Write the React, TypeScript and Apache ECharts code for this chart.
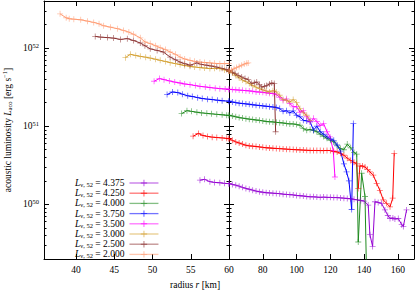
import React, { useEffect, useRef } from "react";
import * as echarts from "echarts";

// Values: [radius r in km, acoustic luminosity in units of 1e50 erg/s]
const UNIT = 1e50;

const names = ["4.375", "4.250", "4.000", "3.750", "3.500", "3.000", "2.500", "2.000"];
const colors = ["#9400d3", "#ff0000", "#1f8a1f", "#0000ff", "#ff00ff", "#d4a030", "#8b3030", "#ff9a70"];

const left4375 = [[56.2,2.04],[56.8,2.09],[57.5,1.95],[58.1,1.91],[58.8,1.89],[59.4,1.86],[60,1.84]];
const right4375 = [[60,1.84],[62,1.80],[64,1.76],[66,1.71],[68,1.65],[70,1.60],[72,1.56],[74,1.52],[76,1.48],[78,1.45],[80,1.43],[82,1.41],[84,1.40],[86,1.39],[88,1.38],[90,1.37],[92,1.35],[94,1.34],[96,1.33],[98,1.32],[100,1.30],[102,1.29],[104,1.28],[106,1.26],[108,1.25],[110,1.25],[112,1.24],[114,1.23],[116,1.24],[118,1.23],[120,1.23],[122,1.22],[124,1.22],[126,1.21],[128,1.20],[130,1.19],[132,1.18],[134,1.16],[136,1.14],[138,1.12],[140,1.10],[142.4,0.98],[143.4,0.41],[145,0.29],[146.4,1.08],[148.3,1.06],[150.3,1.03],[152.3,0.85],[154,0.72],[155.3,0.66],[157,0.67],[158.2,0.65],[160.2,0.66],[162.2,0.55],[163.2,0.52],[165.1,0.85]];

const left4250 = [[55.3,7.45],[56.0,8.07],[56.6,7.6],[57.2,7.4],[57.8,7.25],[58.4,7.16],[59.1,7.08],[59.7,7.0],[60,6.97]];
const right4250 = [[60,6.9],[62,6.6],[64,6.3],[66,6.1],[68,5.9],[70,5.7],[72,5.6],[74,5.56],[76,5.5],[78,5.43],[80,5.37],[82,5.3],[84,5.27],[86,5.22],[88,5.19],[90,5.16],[92,5.12],[94,5.09],[96,5.06],[98,5.03],[100,5.0],[102,4.98],[104,4.95],[106,4.92],[108,4.9],[110,4.9],[112,4.89],[114,4.88],[116,4.87],[118,4.9],[120,4.88],[122,4.75],[124,4.68],[126,4.5],[128,4.25],[130,3.9],[132,3.65],[134,3.45],[135.5,3.3],[136.5,1.6],[137.5,3.1],[139,3.1],[140.5,3.0],[142,2.8],[143.4,2.6],[145.4,2.37],[147.4,1.86],[149.3,1.51],[151.3,1.14],[153.3,1.03],[155.3,0.93],[156.9,1.2],[157.8,4.5]];

const left4000 = [[53.8,14.5],[54.5,15.8],[55.1,15.5],[55.8,15.1],[56.4,14.8],[57.1,14.6],[57.7,14.4],[58.4,14.2],[59.1,14.0],[59.7,13.8],[60,13.7]];
const right4000 = [[60,13.8],[62,13.5],[64,13.2],[66,12.9],[68,12.7],[70,12.5],[72,12.3],[74,12.2],[76,12.0],[78,11.9],[80,11.7],[82,11.5],[84,11.4],[86,11.35],[88,11.2],[90,11.1],[92,11.0],[94,10.8],[96,10.7],[98,10.7],[100,10.5],[102,10.3],[104,9.3],[106,8.9],[108,9.1],[110,8.8],[112,8.5],[114,7.9],[116,7.4],[118,7.0],[120,6.6],[122,6.3],[124,5.6],[126,5.2],[128,5.0],[130,5.9],[132,5.3],[134,4.6],[135.6,4.4],[136.5,0.33],[138.5,2.5],[140.5,1.26],[141.5,0.1]];

const left3750 = [[51.9,25.4],[52.6,27.4],[53.3,26.9],[53.9,25.7],[54.6,24.5],[55.2,24.0],[55.9,23.2],[56.5,22.6],[57.2,22.2],[57.8,21.9],[58.5,21.5],[59.1,21.2],[60,20.9]];
const right3750 = [[60,20.9],[62,20.4],[64,20.0],[66,19.7],[68,19.5],[70,19.3],[72,19.1],[74,18.8],[76,18.6],[78,18.4],[80,18.2],[82,18.0],[84,17.8],[86,17.6],[88,17.4],[90,16.8],[92,15.5],[94,15.8],[96,14.8],[98,15.7],[100,13.8],[102,13.2],[104,11.9],[106,11.7],[108,11.4],[110,8.9],[112,10.0],[114,8.5],[116,7.9],[118,7.3],[120,6.9],[122,6.6],[124,5.75],[126,4.8],[128,3.3],[129.6,2.6],[131,2.0],[132.6,0.86],[133.6,10.8]];

const left3500 = [[50.2,37.6],[50.9,40.7],[51.5,39.4],[52.2,38.0],[52.9,36.7],[53.6,35.7],[54.2,34.7],[54.9,34.0],[55.6,33.1],[56.2,32.4],[56.9,31.8],[57.5,31.2],[58.2,30.7],[58.8,30.2],[59.5,29.9],[60,29.7]];
const right3500 = [[60,29.5],[62,29.4],[64,29.2],[66,29.0],[68,28.8],[70,28.5],[72,28.3],[74,28.0],[76,27.5],[78,27.4],[80,27.1],[82,26.8],[84,26.4],[86,26.2],[88,25.4],[90,23.4],[92,21.4],[94,22.4],[96,19.5],[98,17.7],[100,17.8],[102,15.1],[104,15.8],[106,13.2],[108,11.4],[110,12.6],[112,11.5],[114,10.2],[116,10.8],[118,8.5],[119.8,7.3],[121.7,4.9],[122.7,2.24]];

const left3000 = [[46.45,75.4],[47.1,83.2],[47.8,80.4],[48.4,78.3],[49.1,76.4],[49.7,74.5],[50.4,71.9],[51.0,69.7],[51.7,67.3],[52.3,65.0],[53.0,63.1],[53.6,61.4],[54.2,59.8],[54.9,58.3],[55.5,57.3],[56.2,56.2],[56.8,55.5],[57.5,54.6],[58.1,55.0],[58.8,54.6],[59.4,52.5],[60,50.8]];
const right3000 = [[60,50.8],[62,47.9],[64,44.7],[66,41.7],[68,38.9],[70,37.2],[72,35.1],[74,33.1],[76,31.6],[78,30.2],[80,29.2],[82,28.2],[84,27.4],[86,28.5],[88,27.5],[90,24.9],[92,21.9],[94,21.5],[96,20.4],[98,21.9],[100,20.0],[102,16.8],[104,14.8],[106,13.8],[108,11.9]];

const left2500 = [[42.5,141],[43.2,138],[44.1,136],[44.9,134],[45.8,129],[46.7,132],[47.5,125],[48.4,116],[49.0,107],[49.7,97.7],[50.6,93.3],[51.4,89.1],[52.3,76.7],[53.0,70.8],[53.6,66.1],[54.2,63.1],[54.9,60.3],[55.8,64.6],[56.4,61.7],[57.1,60.3],[57.7,58.9],[58.4,57.1],[59.1,55.0],[59.7,53.1],[60,51.9]];
const right2500 = [[60,51.9],[62,49.0],[63.6,47.1],[65.5,44.7],[67.5,42.7],[69.5,40.7],[71.4,39.4],[73.4,35.1],[75,35.9],[76.4,36.8],[78,33.9],[79.3,31.6],[81,32.4],[82.3,33.1],[84,34.7],[85.3,35.7],[86.8,35.1],[87.6,8.5]];

const left2000 = [[37.9,274],[38.7,244],[39.1,237],[39.7,234],[40.6,230],[41.5,221],[42.3,213],[43.0,204],[43.6,193],[44.5,185],[45.4,177],[46.2,168],[46.9,160],[47.5,150],[48.4,135],[49.0,120],[49.7,114],[50.4,107],[51.0,101],[51.7,95.5],[52.3,89.1],[53.0,83.2],[53.6,76.7],[54.2,72.4],[54.9,69.7],[55.5,67.6],[56.2,66.1],[56.8,65.3],[57.5,64.6],[58.1,63.8],[58.8,63.1],[59.4,63.1],[60,63.1]];
const right2000 = [[60,50.8],[61.5,52.5],[63,54.3],[64.5,56.2],[66,58.2],[67.5,60.3],[69,62.4],[70.5,63.8],[71.4,64.6]];

const leftData = [left4375, left4250, left4000, left3750, left3500, left3000, left2500, left2000];
const rightData = [right4375, right4250, right4000, right3750, right3500, right3000, right2500, right2000];

const xLeftTicks = [40, 45, 50, 55, 60];
const xRightTicks = [80, 100, 120, 140, 160];
const yMajorTicks = [1e50, 1e51, 1e52];
const yMinorMantissa = [2, 3, 4, 5, 6, 7, 8, 9];
const yDecades = [49, 50, 51, 52];

const Y_MIN = 2e49;
const Y_MAX = 4e52;
const X_LEFT = [35.8, 60];
const X_RIGHT = [60, 169.5];

const PLUS = "path://M4.3,0H5.7V4.3H10V5.7H5.7V10H4.3V5.7H0V4.3H4.3Z";
const FONT = '"Liberation Serif", "DejaVu Serif", serif';
const FS = 9.5;

export default function App() {
  const ref = useRef<HTMLDivElement>(null);
  useEffect(() => {
    if (!ref.current) return;
    const chart = echarts.init(ref.current, null, { renderer: "svg" });

    const yMinor: number[] = [];
    yDecades.forEach((e) =>
      yMinorMantissa.forEach((m) => {
        const v = m * Math.pow(10, e);
        if (v >= Y_MIN && v <= Y_MAX) yMinor.push(v);
      })
    );

    const lineCol = { color: "#000", width: 1 };
    const yAxis = (gridIndex: number, position: string, minor: boolean, main: boolean) => ({
      type: "log",
      logBase: 10,
      gridIndex,
      position,
      min: Y_MIN,
      max: Y_MAX,
      axisLine: { show: !minor, onZero: false, lineStyle: lineCol },
      axisTick: {
        show: true,
        inside: true,
        length: minor ? 2.5 : 5,
        customValues: minor ? yMinor : yMajorTicks,
        lineStyle: lineCol,
      },
      minorTick: { show: false },
      splitLine: { show: false },
      axisLabel: {
        show: main,
        customValues: yMajorTicks,
        margin: 5,
        formatter: (v: number) => `{b|10}{s|${Math.round(Math.log10(v))}}`,
        rich: {
          b: { fontFamily: FONT, fontSize: FS, color: "#000" },
          s: { fontFamily: FONT, fontSize: 6.5, color: "#000", padding: [0, 0, 6, 0] },
        },
      },
      ...(main
        ? {
            name: "acoustic luminosity {i|L}{sub|aco} [erg s{sup|−1}]",
            nameLocation: "middle",
            nameGap: 30,
            nameTextStyle: {
              fontFamily: FONT,
              fontSize: FS,
              color: "#000",
              rich: {
                i: { fontFamily: FONT, fontSize: FS, fontStyle: "italic", color: "#000" },
                sub: { fontFamily: FONT, fontSize: 6.5, color: "#000", padding: [3, 0, 0, 0] },
                sup: { fontFamily: FONT, fontSize: 6.5, color: "#000", padding: [0, 0, 6, 0] },
              },
            },
          }
        : {}),
    });

    const xAxis = (gridIndex: number, position: string, range: number[], ticks: number[], labels: number[] | null) => ({
      type: "value",
      gridIndex,
      position,
      min: range[0],
      max: range[1],
      axisLine: { show: true, onZero: false, lineStyle: lineCol },
      axisTick: { show: true, inside: true, length: 5, customValues: ticks, lineStyle: lineCol },
      splitLine: { show: false },
      axisLabel: labels
        ? { show: true, customValues: labels, margin: 6, fontFamily: FONT, fontSize: FS, color: "#000" }
        : { show: false },
    });

    const series: any[] = [];
    names.forEach((name, i) => {
      const common = {
        name,
        type: "line",
        symbol: PLUS,
        symbolSize: 6,
        showAllSymbol: true,
        lineStyle: { color: colors[i], width: 1 },
        itemStyle: { color: colors[i], opacity: 0.6 },
        emphasis: { disabled: true },
        clip: true,
      };
      series.push({
        ...common,
        xAxisIndex: 0,
        yAxisIndex: 0,
        data: leftData[i].map(([r, l]) => [r, l * UNIT]),
      });
      series.push({
        ...common,
        xAxisIndex: 2,
        yAxisIndex: 4,
        data: rightData[i].map(([r, l]) => [r, l * UNIT]),
      });
    });

    chart.setOption({
      animation: false,
      backgroundColor: "#fff",
      grid: [
        { left: 43, top: 1, width: 186, height: 258 },
        { left: 229, top: 1, width: 185, height: 258 },
      ],
      xAxis: [
        xAxis(0, "bottom", X_LEFT, [40, 45, 50, 55], xLeftTicks),
        xAxis(0, "top", X_LEFT, [40, 45, 50, 55], null),
        xAxis(1, "bottom", X_RIGHT, xRightTicks, xRightTicks),
        xAxis(1, "top", X_RIGHT, xRightTicks, null),
      ],
      yAxis: [
        yAxis(0, "left", false, true),
        yAxis(0, "left", true, false),
        yAxis(0, "right", false, false),
        yAxis(0, "right", true, false),
        yAxis(1, "left", false, false),
        yAxis(1, "left", true, false),
        yAxis(1, "right", false, false),
        yAxis(1, "right", true, false),
      ],
      legend: {
        data: names,
        orient: "vertical",
        left: 70,
        top: 173,
        align: "right",
        itemWidth: 29,
        itemHeight: 8,
        itemGap: 0.2,
        selectedMode: false,
        lineStyle: { opacity: 0.55, width: 1.3 },
        itemStyle: { opacity: 0.7 },
        formatter: (n: string) => `{i|L}{sub|ν, 52}{t| = ${n}}`,
        textStyle: {
          fontFamily: FONT,
          fontSize: FS,
          color: "#000",
          lineHeight: 10,
          rich: {
            i: { fontFamily: FONT, fontSize: FS, fontStyle: "italic", color: "#000", lineHeight: 10 },
            sub: { fontFamily: FONT, fontSize: 6.5, color: "#000", lineHeight: 10, padding: [3, 0, 0, 0] },
            t: { fontFamily: FONT, fontSize: FS, color: "#000", lineHeight: 10 },
          },
        },
      },
      graphic: [
        {
          type: "text",
          left: 170,
          top: 280,
          style: {
            text: "radius {i|r} [km]",
            fontFamily: FONT,
            fontSize: FS,
            fill: "#000",
            rich: {
              i: { fontFamily: FONT, fontSize: FS, fontStyle: "italic", fill: "#000" },
            },
          },
        },
      ],
      series,
    });
    return () => chart.dispose();
  }, []);
  return <div ref={ref} style={{ position: "fixed", left: 0, top: 0, width: 415, height: 291 }} />;
}
